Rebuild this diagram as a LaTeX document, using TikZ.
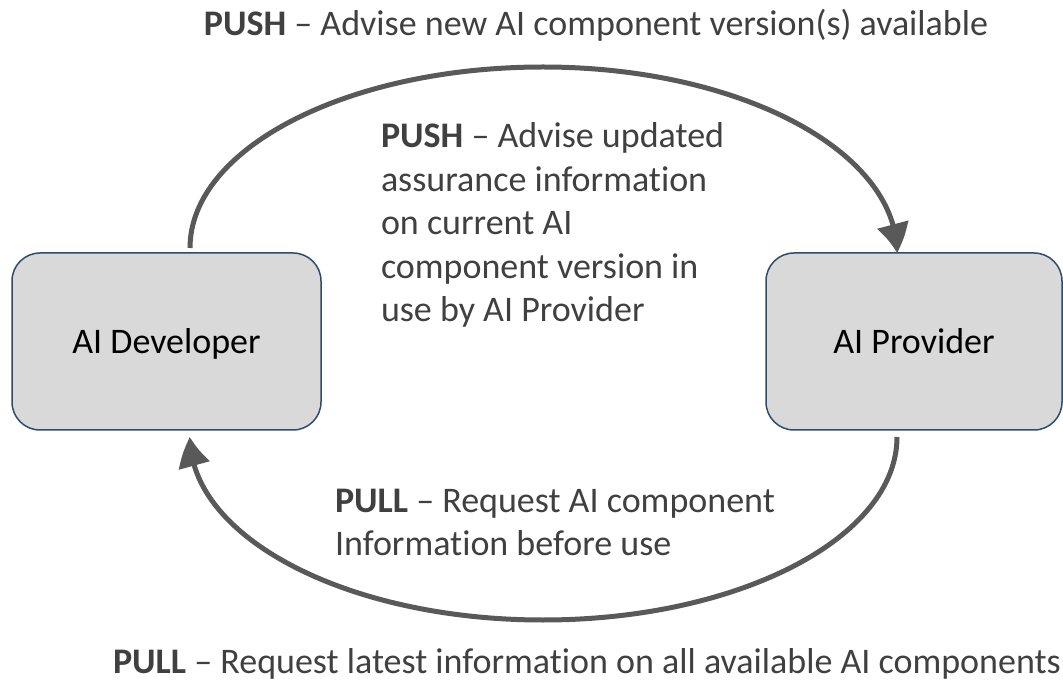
\documentclass[tikz,border=0pt]{standalone}
\usepackage{fontspec}
\setmainfont[Ligatures=CommonOff]{Carlito}
\usetikzlibrary{arrows.meta,bending}
\definecolor{boxfill}{HTML}{D9D9D9}
\definecolor{boxline}{HTML}{2F4B6E}
\definecolor{flowgray}{HTML}{595959}
\definecolor{textgray}{HTML}{404040}
\begin{document}
\begin{tikzpicture}[x=1pt,y=-1pt,
  party/.style={draw=boxline, line width=1.5pt, fill=boxfill, rounded corners=28pt,
    minimum height=177pt, inner sep=0pt, outer sep=0pt,
    text height=23.2pt, text depth=0pt,
    font=\fontsize{36}{43.5}\selectfont, text=black},
  flow/.style={draw=flowgray, line width=5pt, -{Triangle[length=29pt,width=31pt,bend]}},
  msg/.style={text=textgray, font=\fontsize{36}{43.5}\selectfont, inner sep=0pt, outer sep=0pt}
]
\useasboundingbox (0,0) rectangle (1063,684);

% the two parties
\node[party, minimum width=309pt] (dev) at (166.5,341.5) {AI Developer};
\node[party, minimum width=296pt] (prov) at (914,341.5) {AI Provider};

% messages
\node[msg, anchor=base] (pushnew) at (596,36)
  {\textbf{PUSH} – Advise new AI component version(s) available};
\node[msg, anchor=north west, align=left] (pushupd) at (381,123)
  {\textbf{PUSH} – Advise updated\\assurance information\\on current AI\\component version in\\use by AI Provider};
\node[msg, anchor=north west, align=left] (pullreq) at (335,489)
  {\textbf{PULL} – Request AI component\\Information before use};
\node[msg, anchor=base] (pullall) at (587,673)
  {\textbf{PULL} – Request latest information on all available AI components};

% push loop over the top
\coordinate (topapex) at (543,67);
\draw[flow] ([xshift=23.5pt,yshift=5pt]dev.north)
  .. controls +(0,-100) and +(-195,0) .. (topapex)
  .. controls +(195,0) and +(0,-103) .. ([xshift=-17pt]prov.north);

% pull loop underneath
\coordinate (botapex) at (543,620);
\draw[flow] ([xshift=-17pt,yshift=-7pt]prov.south)
  .. controls +(0,101) and +(195,0) .. (botapex)
  .. controls +(-195,0) and +(0,101) .. ([xshift=23.5pt,yshift=-7pt]dev.south);
\end{tikzpicture}
\end{document}
